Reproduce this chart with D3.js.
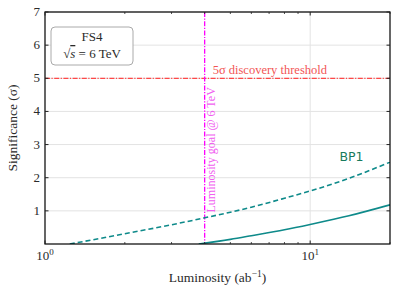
<!DOCTYPE html>
<html>
<head>
<meta charset="utf-8">
<script src="https://cdn.jsdelivr.net/npm/d3@7"></script>
<style>
  body { margin: 0; background: #fff; }
</style>
</head>
<body>
<div id="chart"></div>
<script>
// luminosity samples (ab^-1) and significance
const lumiDashed = [1.24, 1.5, 2, 3, 4, 6, 8, 10, 14, 20];
const sigDashed = [0, 0.12, 0.31, 0.58, 0.79, 1.11, 1.38, 1.60, 1.98, 2.47];
const lumiSolid = [3.8, 5, 6, 8, 10, 14, 20];
const sigSolid = [0, 0.14, 0.25, 0.43, 0.59, 0.85, 1.18];
const yTicks = [1, 2, 3, 4, 5, 6, 7];
const xMajor = [1, 10];
const xMinor = [2, 3, 4, 5, 6, 7, 8, 9, 20];
const lumiGoal = 4;
const threshold = 5;

const serif = "'Liberation Serif', 'DejaVu Serif', 'Times New Roman', serif";
const W = 407, H = 292;
const margin = { top: 12, right: 17, bottom: 48, left: 45 },
  width = W - margin.left - margin.right,
  height = H - margin.top - margin.bottom;

const svg = d3.select("#chart")
  .append("svg")
  .attr("width", W)
  .attr("height", H)
  .attr("font-family", serif);

const g = svg.append("g")
  .attr("transform", `translate(${margin.left}, ${margin.top})`);

const x = d3.scaleLog().domain([1, 20]).range([0, width]);
const y = d3.scaleLinear().domain([0, 7]).range([height, 0]);

g.append("clipPath").attr("id", "clip")
  .append("rect").attr("width", width).attr("height", height);

// grid
g.selectAll(".gy").data(yTicks).join("line")
  .attr("x1", 0).attr("x2", width)
  .attr("y1", d => y(d)).attr("y2", d => y(d))
  .attr("stroke", "#e3e3e3").attr("stroke-width", 1);
g.selectAll(".gx").data([10]).join("line")
  .attr("x1", d => x(d)).attr("x2", d => x(d))
  .attr("y1", 0).attr("y2", height)
  .attr("stroke", "#e3e3e3").attr("stroke-width", 1);

// threshold line
g.append("line")
  .attr("x1", 0).attr("x2", width)
  .attr("y1", y(threshold)).attr("y2", y(threshold))
  .attr("stroke", "#ff4848").attr("stroke-width", 1.3)
  .attr("stroke-dasharray", "5,1.5,1.2,1.5");
g.append("text")
  .attr("x", x(lumiGoal) + 8).attr("y", y(threshold) - 4)
  .attr("font-family", serif)
  .attr("font-size", 12.5).attr("fill", "#f25555")
  .text("5σ discovery threshold");

// luminosity goal line
g.append("line")
  .attr("x1", x(lumiGoal)).attr("x2", x(lumiGoal))
  .attr("y1", 0).attr("y2", height)
  .attr("stroke", "#ff00ff").attr("stroke-width", 1.3)
  .attr("stroke-dasharray", "5,1.5,1.2,1.5");
g.append("text")
  .attr("transform", `translate(${x(lumiGoal) + 10}, ${y(0.95)}) rotate(-90)`)
  .attr("font-family", serif)
  .attr("font-size", 12).attr("fill", "#f060f0")
  .text("Luminosity goal @ 6 TeV");

// curves
const line = d3.line()
  .x(d => x(d[0]))
  .y(d => y(d[1]))
  .curve(d3.curveMonotoneX);

g.append("path")
  .datum(d3.zip(lumiDashed, sigDashed))
  .attr("clip-path", "url(#clip)")
  .attr("d", line)
  .attr("fill", "none").attr("stroke", "#0e8a8a").attr("stroke-width", 1.6)
  .attr("stroke-dasharray", "5,3");

g.append("path")
  .datum(d3.zip(lumiSolid, sigSolid))
  .attr("clip-path", "url(#clip)")
  .attr("d", line)
  .attr("fill", "none").attr("stroke", "#0e8a8a").attr("stroke-width", 1.6);

g.append("text")
  .attr("x", x(12.9)).attr("y", y(2.5))
  .attr("font-family", "'DejaVu Sans', sans-serif")
  .attr("font-size", 12.5).attr("fill", "#187a5c")
  .text("BP1");

// frame
g.append("rect")
  .attr("width", width).attr("height", height)
  .attr("fill", "none").attr("stroke", "#000").attr("stroke-width", 1.2);

// ticks (inward, all sides)
const tickColor = "#222";
g.selectAll(".ytl").data(yTicks).join("line")
  .attr("x1", 0).attr("x2", 3.5)
  .attr("y1", d => y(d)).attr("y2", d => y(d))
  .attr("stroke", tickColor);
g.selectAll(".ytr").data(yTicks).join("line")
  .attr("x1", width).attr("x2", width - 3.5)
  .attr("y1", d => y(d)).attr("y2", d => y(d))
  .attr("stroke", tickColor);
[0, height].forEach((yy, i) => {
  const dir = i === 0 ? 1 : -1;
  g.selectAll(null).data(xMajor).join("line")
    .attr("x1", d => x(d)).attr("x2", d => x(d))
    .attr("y1", yy).attr("y2", yy + dir * 3.5)
    .attr("stroke", tickColor);
  g.selectAll(null).data(xMinor).join("line")
    .attr("x1", d => x(d)).attr("x2", d => x(d))
    .attr("y1", yy).attr("y2", yy + dir * 2)
    .attr("stroke", tickColor).attr("stroke-width", 0.8);
});

// tick labels
g.selectAll(".yl").data(yTicks).join("text")
  .attr("x", -5).attr("y", d => y(d) + 4)
  .attr("text-anchor", "end")
  .attr("font-family", serif)
  .attr("font-size", 13).attr("fill", "#2a2a2a")
  .text(d => d);

xMajor.forEach(v => {
  const t = g.append("text")
    .attr("x", x(v)).attr("y", height + 16)
    .attr("text-anchor", "middle")
    .attr("font-family", serif)
    .attr("font-size", 13).attr("fill", "#2a2a2a");
  t.append("tspan").text("10");
  t.append("tspan").attr("dy", -5).attr("font-size", 9).text(Math.log10(v));
});

// axis labels
const xl = g.append("text")
  .attr("x", width / 2).attr("y", height + 38)
  .attr("text-anchor", "middle")
  .attr("font-family", serif)
  .attr("font-size", 13.5).attr("fill", "#2a2a2a");
xl.append("tspan").text("Luminosity (ab");
xl.append("tspan").attr("dy", -5).attr("font-size", 9.5).text("−1");
xl.append("tspan").attr("dy", 5).text(")");

g.append("text")
  .attr("transform", `translate(${-28}, ${height / 2}) rotate(-90)`)
  .attr("text-anchor", "middle")
  .attr("font-family", serif)
  .attr("font-size", 13.5).attr("fill", "#2a2a2a")
  .text("Significance (σ)");

// info box
const box = g.append("g").attr("transform", "translate(6, 15)");
box.append("rect")
  .attr("width", 82).attr("height", 38).attr("rx", 4)
  .attr("fill", "#fff").attr("stroke", "#aaa").attr("stroke-width", 1);
box.append("text")
  .attr("x", 41).attr("y", 14)
  .attr("text-anchor", "middle")
  .attr("font-family", serif)
  .attr("font-size", 13).attr("fill", "#2a2a2a")
  .text("FS4");
const sq = box.append("text")
  .attr("x", 41).attr("y", 31)
  .attr("text-anchor", "middle")
  .attr("font-family", serif)
  .attr("font-size", 13).attr("fill", "#2a2a2a");
sq.append("tspan").text("√");
sq.append("tspan").attr("text-decoration", "overline").attr("font-style", "italic").text("s");
sq.append("tspan").text(" = 6 TeV");
</script>
</body>
</html>
